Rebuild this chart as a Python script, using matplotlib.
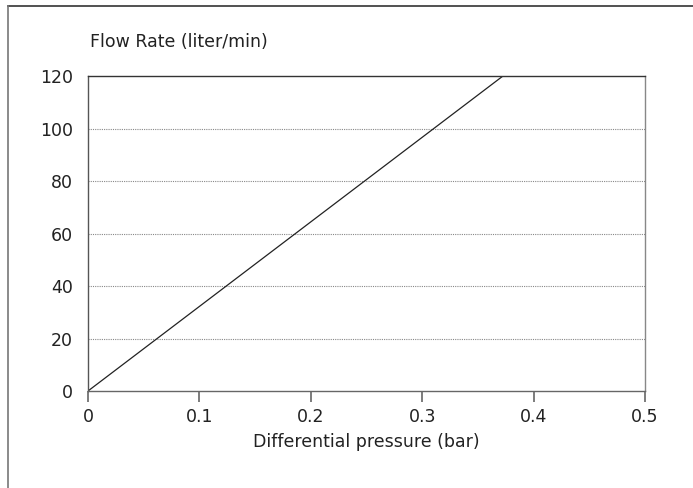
import numpy as np
import matplotlib.pyplot as plt
from matplotlib.lines import Line2D

plt.rcParams['font.family'] = ['DejaVu Sans']

pressure = [0.0, 0.3725]   # bar
flow = [0, 120]            # liter/min
xticks = [0, 0.1, 0.2, 0.3, 0.4, 0.5]
xticklabels = ['0', '0.1', '0.2', '0.3', '0.4', '0.5']
yticks = [0, 20, 40, 60, 80, 100, 120]

fig = plt.figure(figsize=(6.93, 4.88), dpi=100)
ax = fig.add_axes([88/693, 1-391/488, (645-88)/693, (391-76)/488])

ax.plot(pressure, flow, color='#222222', lw=0.9)

for y in yticks[1:-1]:
    ax.axhline(y, color='#888888', lw=0.8, ls=(0, (1, 1)), zorder=0)

ax.set_xlim(0, 0.5)
ax.set_ylim(0, 120)
ax.set_xticks(xticks)
ax.set_xticklabels(xticklabels)
ax.set_yticks(yticks)
ax.tick_params(axis='x', length=8, width=1.2, color='#666666', labelsize=12.5,
               labelcolor='#222222', pad=4)
ax.tick_params(axis='y', length=0, labelsize=12.5, labelcolor='#222222', pad=11)

ax.spines['top'].set_color('#333333')
ax.spines['right'].set_color('#888888')
ax.spines['left'].set_color('#555555')
ax.spines['bottom'].set_color('#666666')
for s in ax.spines.values():
    s.set_linewidth(1.0)

ax.set_xlabel('Differential pressure (bar)', fontsize=12.5, color='#222222', labelpad=5)
fig.text(90/693, 1-42/488, 'Flow Rate (liter/min)', fontsize=12.5, color='#222222',
         va='center', ha='left')

# partial frame of the figure
fig.add_artist(Line2D([8/693, 1], [1-6/488, 1-6/488], transform=fig.transFigure,
                      color='#333333', lw=1.2))
fig.add_artist(Line2D([8/693, 8/693], [0, 1-6/488], transform=fig.transFigure,
                      color='#777777', lw=1.2))

fig.savefig('out.png', dpi=100)
